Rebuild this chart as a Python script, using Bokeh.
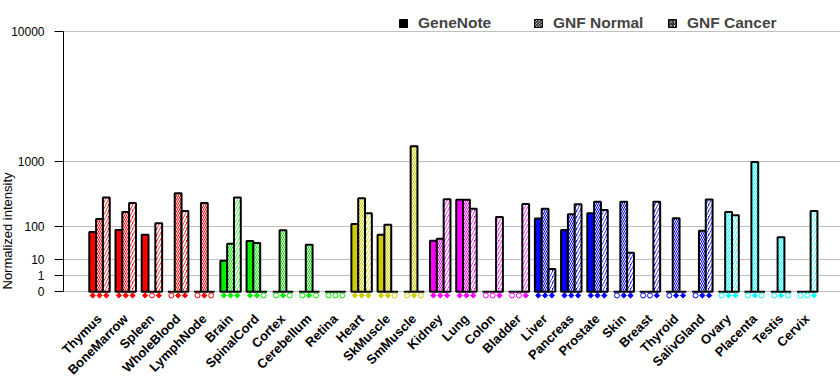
import math
import numpy as np
from bokeh.plotting import figure
from bokeh.models import (ColumnDataSource, FixedTicker, Legend, LegendItem,
                          Title, Range1d)
from bokeh.transform import dodge
from bokeh.embed import file_html
from bokeh.resources import INLINE

# ---------------- data ----------------
tissues = ["Thymus", "BoneMarrow", "Spleen", "WholeBlood", "LymphNode",
           "Brain", "SpinalCord", "Cortex", "Cerebellum", "Retina",
           "Heart", "SkMuscle", "SmMuscle",
           "Kidney", "Lung", "Colon", "Bladder",
           "Liver", "Pancreas", "Prostate", "Skin", "Breast", "Thyroid", "SalivGland",
           "Ovary", "Placenta", "Testis", "Cervix"]
systems = (["blood"] * 5 + ["neural"] * 5 + ["muscle"] * 3 + ["epith"] * 4
           + ["gland"] * 7 + ["repro"] * 4)
system_colors = {"blood": "#ff0000", "neural": "#00ee00", "muscle": "#cccc00",
                 "epith": "#ff00ff", "gland": "#0000ff", "repro": "#00ffff"}

genenote   = [74, 83, 63, 0, 0, 8.3, 43, 0, 0, 0, 112, 63, 0,
              44, 312, 0, 0, 146, 83, 184, 0, 0, 0, 0, 0, 0, 0, 0]
gnf_normal = [143, 194, 0, 392, 276, 36, 38, 82, 33.5, 0, 330, 108, 1437,
              50, 312, 0, 0, 222, 176, 290, 290, 0, 148, 79, 194, 979, 55, 0]
gnf_cancer = [339, 276, 117, 202, 0, 339, 0, 0, 0, 0, 184, 0, 0,
              319, 222, 156, 266, 3, 263, 210, 18, 290, 0, 316, 168, 0, 0, 202]

call_genenote = [1, 1, 1, 0, 0, 1, 1, 0, 0, 0, 1, 1, 0,
                 1, 1, 0, 0, 1, 1, 1, 0, 0, 0, 0, 0, 0, 0, 0]
call_normal   = [1, 1, 0, 1, 1, 1, 1, 1, 1, 0, 1, 1, 1,
                 1, 1, 0, 0, 1, 1, 1, 1, 0, 1, 1, 1, 1, 1, 0]
call_cancer   = [1, 1, 1, 1, 0, 1, 0, 0, 0, 0, 1, 0, 0,
                 1, 1, 1, 1, 1, 1, 1, 1, 1, 1, 1, 1, 0, 0, 1]

y_ticks = [0, 1, 10, 100, 1000, 10000]
series_names = ["GeneNote", "GNF Normal", "GNF Cancer"]

# ------------- scale (power 0.3 display transform) -------------
EXP = 0.3
def tr(v):
    return np.power(np.asarray(v, dtype=float), EXP)

FONT = "Liberation Sans"
W = 0.26
n = len(tissues)
xs = np.arange(n)
colors = [system_colors[s] for s in systems]

src = ColumnDataSource(dict(x=xs, color=colors,
                            gn=tr(genenote), nm=tr(gnf_normal), ca=tr(gnf_cancer)))

ytop = float(tr(10000))
PX = 16.6           # pixels per transformed unit
X0, X1 = -1.3735, 28.27
p = figure(width=840, height=385, output_backend="svg", toolbar_location=None,
           x_range=Range1d(X0, X1),
           y_range=Range1d(-0.465, ytop + 31 / PX),   # headroom holds the legend
           min_border_left=63, min_border_right=0, min_border_top=0,
           min_border_bottom=83)
p.outline_line_color = None
p.background_fill_color = "white"
p.border_fill_color = "white"

# bars
p.vbar(x=dodge("x", -W), top="gn", bottom=0, width=W, source=src,
       fill_color="color", line_color="black", line_width=2)
p.vbar(x=dodge("x", 0), top="nm", bottom=0, width=W, source=src,
       fill_color="color", line_color="black", line_width=2,
       hatch_pattern="\\", hatch_color="white", hatch_scale=4, hatch_weight=1)
p.vbar(x=dodge("x", W), top="ca", bottom=0, width=W, source=src,
       fill_color="color", line_color="black", line_width=2,
       hatch_pattern="/", hatch_color="white", hatch_scale=6, hatch_weight=2)

# call markers beneath the bars
fx, fc, hx, hc = [], [], [], []
for i in range(n):
    for off, calls in ((-W, call_genenote), (0, call_normal), (W, call_cancer)):
        if calls[i]:
            fx.append(i + off); fc.append(colors[i])
        else:
            hx.append(i + off); hc.append(colors[i])
MY = -0.22
p.scatter(x=fx, y=[MY] * len(fx), marker="square", angle=math.pi / 4, size=3.7,
          fill_color=fc, line_color=fc, line_width=1)
p.scatter(x=hx, y=[MY] * len(hx), marker="circle", size=5,
          fill_color="white", line_color=hc, line_width=1)

# axes
yax = p.yaxis[0]
yax.ticker = FixedTicker(ticks=[float(t) for t in tr(y_ticks)])
yax.major_label_overrides = {float(tr(t)): str(t) for t in y_ticks}
yax.bounds = (0, ytop)
yax.major_tick_out = 9
yax.major_tick_in = 0
yax.minor_tick_line_color = None
yax.axis_line_color = "black"
yax.major_tick_line_color = "black"
yax.major_label_text_font = FONT
yax.major_label_text_font_size = "12px"
yax.major_label_text_color = "black"
yax.major_label_standoff = 10

xax = p.xaxis[0]
xax.ticker = FixedTicker(ticks=list(range(n)))
xax.major_label_overrides = {i: t for i, t in enumerate(tissues)}
xax.major_label_orientation = math.pi / 4
xax.axis_line_color = None
xax.major_tick_line_color = None
xax.minor_tick_line_color = None
xax.major_label_text_font = FONT
xax.major_label_text_font_size = "13px"
xax.major_label_text_font_style = "bold"
xax.major_label_text_color = "black"
xax.major_label_standoff = 11

p.xgrid.visible = False
p.ygrid.grid_line_color = "#c0c0c0"
p.ygrid.grid_line_width = 1

# y-axis title, placed low like the reference (tiny panel keeps the frame at x=63)
p.add_layout(Title(text="Normalized intensity", align="left", offset=10,
                   standoff=-13, vertical_align="bottom",
                   text_font=FONT, text_font_size="13px",
                   text_font_style="normal", text_color="black"), "left")

# legend (three single-item legends in the headroom); the swatch renderers
# carry one NaN row so nothing is drawn in the plot but the swatch is drawn
def swatch(**kw):
    s = ColumnDataSource(dict(x=[0.0], top=[np.nan]))
    return p.vbar(x="x", top="top", bottom=0, width=0.5, source=s,
                  line_color="black", line_width=1, **kw)

r_gn = swatch(fill_color="black")
r_nm = swatch(fill_color="white", hatch_pattern="\\", hatch_color="black",
              hatch_scale=3, hatch_weight=1)
r_ca = swatch(fill_color="white", hatch_pattern="/", hatch_color="black",
              hatch_scale=3.5, hatch_weight=1.2)
for name, r, vx in zip(series_names, (r_gn, r_nm, r_ca), (335, 470, 604)):
    leg = Legend(items=[LegendItem(label=name, renderers=[r])], location=(vx, 267),
                 orientation="horizontal", glyph_width=10, glyph_height=10,
                 label_standoff=10, padding=0, margin=0, spacing=0,
                 border_line_color=None, background_fill_alpha=0,
                 label_text_font=FONT, label_text_font_size="15.5px",
                 label_text_font_style="bold", label_height=10)
    p.add_layout(leg, "center")

open("out.html", "w").write(file_html(p, INLINE))
